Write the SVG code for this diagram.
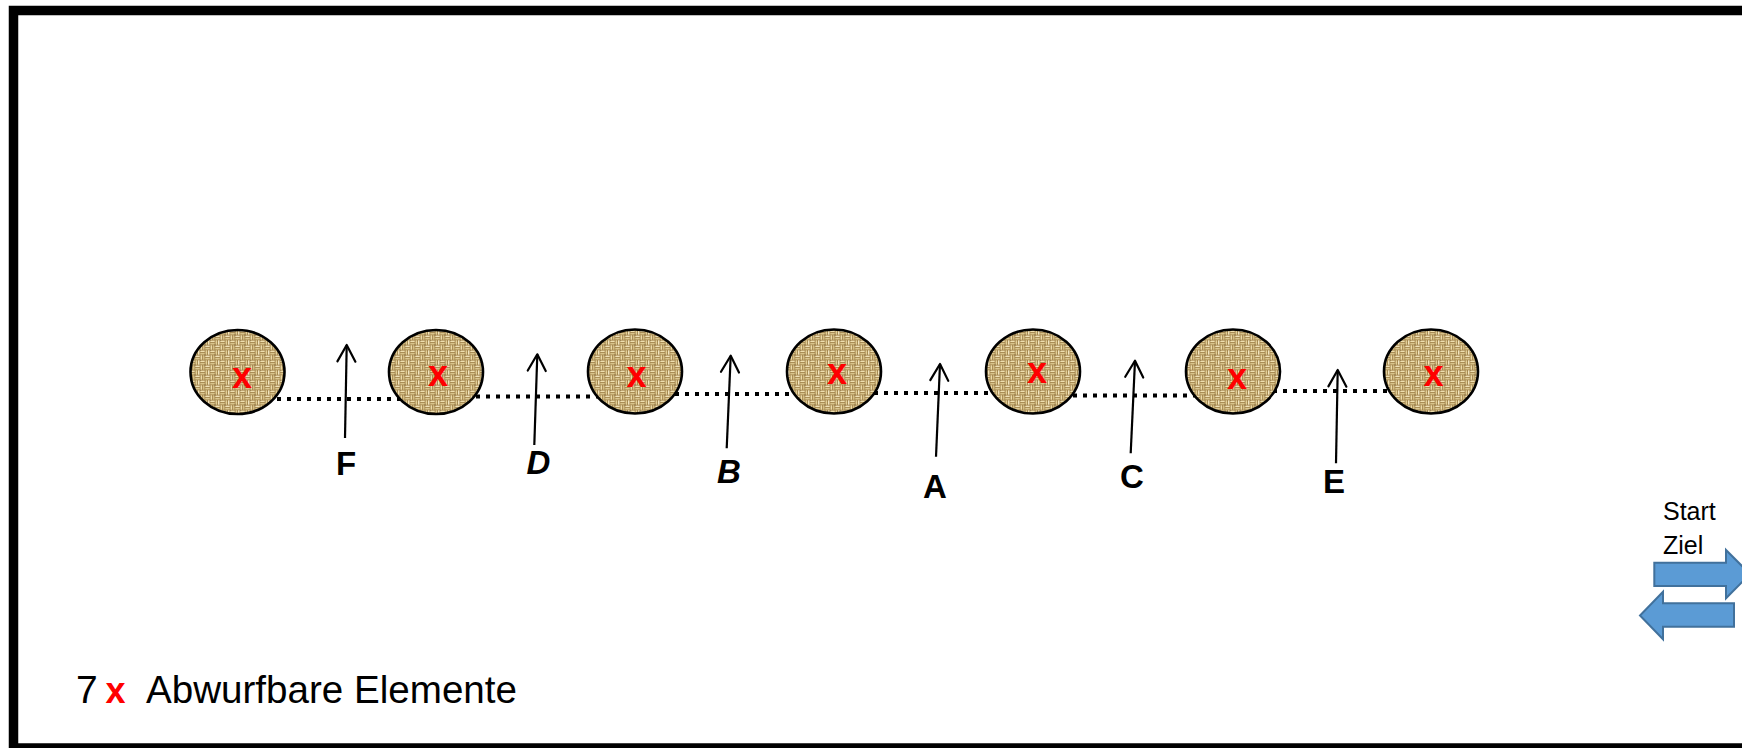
<svg xmlns="http://www.w3.org/2000/svg" width="1742" height="748" viewBox="0 0 1742 748">
<style>
.bale{fill:url(#burlap);stroke:#000;stroke-width:2.6}
.mark{font-family:"Liberation Sans",Arial,sans-serif;font-weight:bold;font-size:36px;fill:#FF0000;text-anchor:middle}
.dots{fill:none;stroke:#000;stroke-width:4;stroke-dasharray:4 6}
.arr{fill:none;stroke:#000;stroke-width:2.2;marker-end:url(#open)}
.lbl{font-family:"Liberation Sans",Arial,sans-serif;font-weight:bold;font-size:33px;fill:#000;text-anchor:middle}
.txt{font-family:"Liberation Sans",Arial,sans-serif;font-size:39px;fill:#000}
.small{font-family:"Liberation Sans",Arial,sans-serif;font-size:25px;fill:#000}
.blue{fill:#5B9BD5;stroke:#41719C;stroke-width:2}
</style>
<defs>
<pattern id="burlap" patternUnits="userSpaceOnUse" width="10" height="10">
<rect width="10" height="10" fill="#A3844C"/>
<rect x="0.3" y="0.6" width="4.4" height="1.5" fill="#EEDFB0"/>
<rect x="0.3" y="3" width="4.4" height="1.5" fill="#D9C48C"/>
<rect x="5.6" y="0.3" width="1.5" height="4.4" fill="#E2CF98"/>
<rect x="8" y="0.3" width="1.5" height="4.4" fill="#F2E5BE"/>
<rect x="0.6" y="5.3" width="1.5" height="4.4" fill="#EADAA8"/>
<rect x="3" y="5.3" width="1.5" height="4.4" fill="#D4BE85"/>
<rect x="5.3" y="5.6" width="4.4" height="1.5" fill="#F0E2B8"/>
<rect x="5.3" y="8" width="4.4" height="1.5" fill="#DCC890"/>
<rect x="4.6" y="4.6" width="0.8" height="0.8" fill="#4E3A1C"/>
<rect x="0" y="0" width="0.5" height="0.5" fill="#4E3A1C"/>
</pattern>
<marker id="open" markerUnits="userSpaceOnUse" viewBox="-20 -11 24 22" markerWidth="24" markerHeight="22" refX="0" refY="0" orient="auto" overflow="visible">
<path d="M-16.5,-9 L0,0 L-16.5,9" fill="none" stroke="#000" stroke-width="2.2" stroke-linejoin="round" stroke-linecap="round"/>
</marker>
</defs>
<rect width="1742" height="748" fill="#fff"/>
<rect id="frame" x="13.5" y="10.5" width="1800" height="737.5" fill="none" stroke="#000" stroke-width="9.5"/>

<g id="connectors">
<path class="dots" d="M237,399 H436"/>
<path class="dots" d="M436,396.5 H635"/>
<path class="dots" d="M635,394 H834"/>
<path class="dots" d="M834,393 H1033"/>
<path class="dots" d="M1033,395.5 H1233"/>
<path class="dots" d="M1233,391 H1431"/>
</g>

<g id="bale1"><ellipse class="bale" cx="237.5" cy="372" rx="47" ry="42"/><text class="mark" x="242" y="388">x</text></g>
<g id="bale2"><ellipse class="bale" cx="436" cy="372" rx="47" ry="42"/><text class="mark" x="438" y="386">x</text></g>
<g id="bale3"><ellipse class="bale" cx="635" cy="371.5" rx="47" ry="42"/><text class="mark" x="636.5" y="387">x</text></g>
<g id="bale4"><ellipse class="bale" cx="834" cy="371.5" rx="47" ry="42"/><text class="mark" x="837" y="384">x</text></g>
<g id="bale5"><ellipse class="bale" cx="1033" cy="371.5" rx="47" ry="42"/><text class="mark" x="1037" y="383">x</text></g>
<g id="bale6"><ellipse class="bale" cx="1233" cy="371.5" rx="47" ry="42"/><text class="mark" x="1237" y="389">x</text></g>
<g id="bale7"><ellipse class="bale" cx="1431" cy="371.5" rx="47" ry="42"/><text class="mark" x="1433.5" y="386">x</text></g>

<g id="arrowF"><path class="arr" d="M345,438 L346.7,345"/><text class="lbl" x="346" y="475">F</text></g>
<g id="arrowD"><path class="arr" d="M534.3,445 L537.3,354.3"/><text class="lbl" x="538.5" y="474" font-style="italic">D</text></g>
<g id="arrowB"><path class="arr" d="M726.7,448.3 L730.7,355.7"/><text class="lbl" x="729" y="483" font-style="italic">B</text></g>
<g id="arrowA"><path class="arr" d="M936,456.7 L940,364"/><text class="lbl" x="935" y="498">A</text></g>
<g id="arrowC"><path class="arr" d="M1130.7,453.3 L1135,360.7"/><text class="lbl" x="1132" y="488">C</text></g>
<g id="arrowE"><path class="arr" d="M1336,463.3 L1337.7,370"/><text class="lbl" x="1334" y="493">E</text></g>

<g id="startziel">
<text class="small" x="1663" y="520">Start</text>
<text class="small" x="1663" y="554">Ziel</text>
<path class="blue" d="M1654.3,562.7 H1726 V550 L1750,574 L1726,598.3 V586 H1654.3 Z"/>
<path class="blue" d="M1734,603.3 H1663 V591.7 L1640,615.5 L1663,639.3 V626.7 H1734 Z"/>
</g>

<g id="legend">
<text class="txt" x="76" y="703.3">7</text>
<text class="mark" x="115.5" y="703.3" font-size="38">x</text>
<text class="txt" x="146" y="703.3" textLength="371" lengthAdjust="spacingAndGlyphs">Abwurfbare Elemente</text>
</g>
</svg>
